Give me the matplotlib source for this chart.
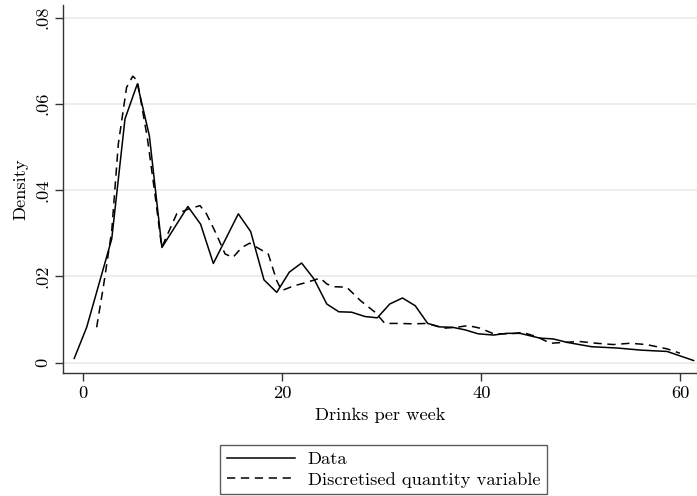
import matplotlib
matplotlib.use("Agg")
import matplotlib.pyplot as plt

plt.rcParams['font.family'] = ['cmr10', 'DejaVu Serif']
plt.rcParams['mathtext.fontset'] = 'cm'
plt.rcParams['axes.unicode_minus'] = False

# Data (kernel density of drinks per week)
data_x = [-0.91, 0.34, 2.86, 4.19, 5.43, 6.64, 7.90, 10.51, 11.79, 13.07, 15.58,
          16.82, 18.16, 19.44, 20.71, 21.94, 23.19, 24.47, 25.68, 26.96, 28.31,
          29.55, 30.80, 32.08, 33.36, 34.61, 35.83, 37.11, 38.39, 39.67, 41.24,
          42.52, 43.90, 45.87, 47.25, 48.63, 51.09, 53.65, 56.12, 58.68, 61.34]
data_y = [0.0010, 0.0082, 0.0287, 0.0565, 0.0646, 0.0526, 0.0267, 0.0362, 0.0321,
          0.0230, 0.0345, 0.0304, 0.0192, 0.0163, 0.0210, 0.0231, 0.0194, 0.0136,
          0.0118, 0.0117, 0.0107, 0.0104, 0.0136, 0.0150, 0.0132, 0.0091, 0.0083,
          0.0082, 0.0076, 0.0067, 0.0064, 0.0068, 0.0068, 0.0057, 0.0055, 0.0047,
          0.0037, 0.0034, 0.0029, 0.0026, 0.0005]

# Discretised quantity variable
disc_x = [1.34, 2.01, 2.86, 3.52, 4.35, 4.97, 5.43, 6.43, 7.20, 7.88, 9.39, 10.56,
          11.73, 12.38, 13.37, 14.25, 15.04, 15.93, 16.72, 17.76, 18.59, 19.44,
          19.94, 21.15, 22.43, 23.81, 24.50, 25.29, 26.47, 27.85, 29.32, 30.31,
          31.79, 33.17, 34.55, 36.22, 37.50, 38.68, 39.86, 41.24, 42.92, 44.20,
          45.58, 46.96, 48.24, 49.91, 51.59, 53.26, 54.94, 56.61, 58.68, 59.96]
disc_y = [0.0082, 0.0175, 0.0306, 0.0507, 0.0638, 0.0664, 0.0654, 0.0522, 0.0391,
          0.0267, 0.0345, 0.0356, 0.0364, 0.0345, 0.0298, 0.0252, 0.0244, 0.0267,
          0.0277, 0.0263, 0.0252, 0.0190, 0.0167, 0.0178, 0.0186, 0.0196, 0.0182,
          0.0176, 0.0175, 0.0144, 0.0117, 0.0091, 0.0091, 0.0090, 0.0091, 0.0080,
          0.0082, 0.0086, 0.0080, 0.0067, 0.0067, 0.0070, 0.0060, 0.0045, 0.0047,
          0.0049, 0.0045, 0.0042, 0.0045, 0.0042, 0.0032, 0.0022]

x_ticks = [0, 20, 40, 60]
x_ticklabels = ['0', '20', '40', '60']
y_ticks = [0, 0.02, 0.04, 0.06, 0.08]
y_ticklabels = ['0', '.02', '.04', '.06', '.08']

W, H = 697, 496
fig = plt.figure(figsize=(W / 100, H / 100), dpi=100)
ax = fig.add_axes([62.7 / W, (H - 373.3) / H, (W - 62.7) / W, (373.3 - 5) / H])

ax.plot(data_x, data_y, color='black', lw=1.1, label='Data')
ax.plot(disc_x, disc_y, color='black', lw=1.1, dashes=(5.4, 3.7),
        label='Discretised quantity variable')

ax.set_xlim(-2.07, 61.68)
ax.set_ylim(-0.00246, 0.0829)
ax.set_xticks(x_ticks)
ax.set_xticklabels(x_ticklabels, fontsize=13.3)
ax.set_yticks(y_ticks)
ax.set_yticklabels(y_ticklabels, fontsize=13.3, rotation=90, va='center')
ax.grid(axis='y', color='#e8e8e8', lw=1.1)
ax.set_axisbelow(True)
for s in ['top', 'right']:
    ax.spines[s].set_visible(False)
for s in ['left', 'bottom']:
    ax.spines[s].set_linewidth(1.0)
    ax.spines[s].set_color('#333333')
ax.tick_params(direction='out', length=5.5, width=1.0, pad=3.5, color='#333333')
ax.set_xlabel('Drinks per week', fontsize=13.3, labelpad=5)
ax.set_ylabel('Density', fontsize=13.3, labelpad=5)

leg = fig.legend(loc='lower center', bbox_to_anchor=(383.5 / W, 2 / H),
                 fontsize=13.3, frameon=True, fancybox=False, edgecolor='#333333',
                 handlelength=3.7, handletextpad=0.7, borderpad=0.35,
                 labelspacing=0.25, borderaxespad=0)
leg.get_frame().set_linewidth(1.0)

fig.savefig('out.png', dpi=100)
